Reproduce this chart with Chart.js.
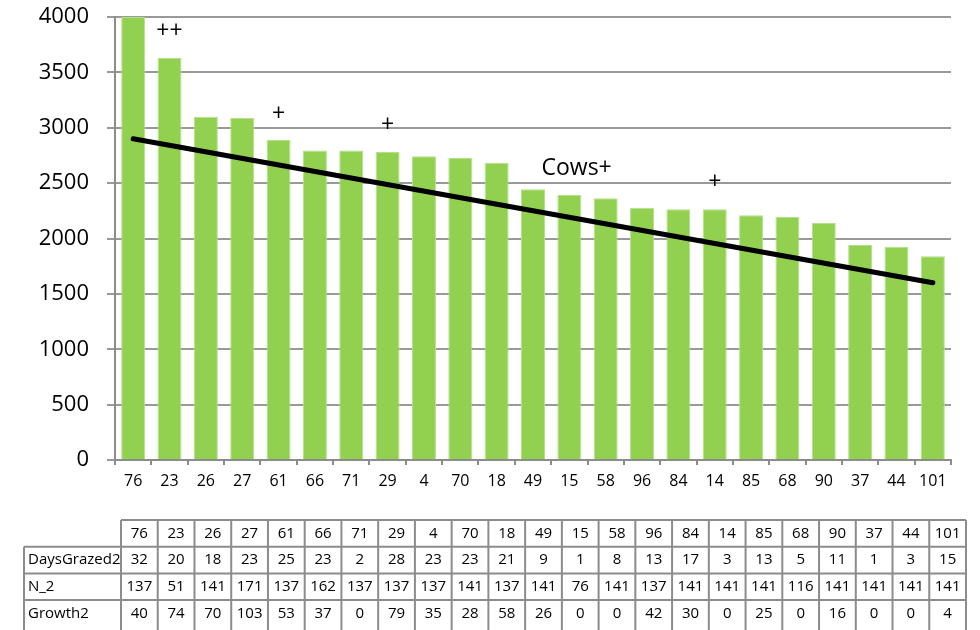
<!DOCTYPE html>
<html>
<head>
<meta charset="utf-8">
<script src="https://cdn.jsdelivr.net/npm/chart.js@4"></script>
<style>
  html, body { margin: 0; padding: 0; background: #fff; }
  #wrap { width: 980px; height: 630px; }
</style>
</head>
<body>
<div id="wrap"><canvas id="cowChart" width="980" height="630"></canvas></div>
<script>
// Paddock ids along the x axis
const paddocks = ['76', '23', '26', '27', '61', '66', '71', '29', '4', '70', '18', '49',
    '15', '58', '96', '84', '14', '85', '68', '90', '37', '44', '101'];

// Bar heights
const cows = [4000, 3630, 3100, 3090, 2890, 2795, 2795, 2780, 2742, 2727, 2685, 2444,
    2393, 2363, 2278, 2265, 2265, 2209, 2194, 2140, 1941, 1926, 1840];

// Trend line, first and last category only
const trend = [2900, null, null, null, null, null, null, null, null, null, null, null,
    null, null, null, null, null, null, null, null, null, null, 1600];

// Data table rows
const daysGrazed2 = [32, 20, 18, 23, 25, 23, 2, 28, 23, 23, 21, 9, 1, 8, 13, 17, 3, 13, 5, 11, 1, 3, 15];
const n2 = [137, 51, 141, 171, 137, 162, 137, 137, 137, 141, 137, 141, 76, 141, 137, 141, 141, 141, 116, 141, 141, 141, 141];
const growth2 = [40, 74, 70, 103, 53, 37, 0, 79, 35, 28, 58, 26, 0, 0, 42, 30, 0, 25, 0, 16, 0, 0, 4];
const tableRows = [
    { label: 'DaysGrazed2', values: daysGrazed2 },
    { label: 'N_2', values: n2 },
    { label: 'Growth2', values: growth2 }
];

// Text marks above the bars
const noteText = ['++', '+', '+', 'Cows+', '+'];
const noteIndex = [1, 4, 7, 12.2, 16];
const noteValue = [3865, 3124, 3025, 2628, 2510];

const yTicks = [0, 500, 1000, 1500, 2000, 2500, 3000, 3500, 4000];

const FONT = '"Open Sans", "Liberation Sans", sans-serif';

// Draw the notes and the data table
const extrasPlugin = {
    id: 'extras',
    afterDatasetsDraw(chart) {
        const { ctx, scales } = chart;
        ctx.save();
        ctx.fillStyle = '#000';
        ctx.font = `23px ${FONT}`;
        ctx.textAlign = 'center';
        ctx.textBaseline = 'middle';
        noteText.forEach((t, i) => {
            const x = scales.x.getPixelForValue(noteIndex[i]);
            const y = scales.y.getPixelForValue(noteValue[i]);
            ctx.fillText(t, x, y);
        });
        ctx.restore();
    },
    afterDraw(chart) {
        const ctx = chart.ctx;
        const labelLeft = 24;
        const left = 121;
        const right = 966;
        const top = 520;
        const rowH = 26.7;
        const colW = (right - left) / paddocks.length;
        const bottom = 640;

        ctx.save();
        ctx.strokeStyle = '#8c8c8c';
        ctx.lineWidth = 2;
        ctx.beginPath();
        // horizontal lines
        ctx.moveTo(left, top);
        ctx.lineTo(right, top);
        for (let r = 1; r <= tableRows.length; r++) {
            const y = top + r * rowH;
            ctx.moveTo(labelLeft, y);
            ctx.lineTo(right, y);
        }
        // vertical lines
        ctx.moveTo(labelLeft, top + rowH);
        ctx.lineTo(labelLeft, bottom);
        for (let c = 0; c <= paddocks.length; c++) {
            const x = left + c * colW;
            ctx.moveTo(x, top);
            ctx.lineTo(x, bottom);
        }
        ctx.stroke();

        ctx.fillStyle = '#000';
        ctx.font = `15px ${FONT}`;
        ctx.textBaseline = 'middle';
        ctx.textAlign = 'center';
        paddocks.forEach((p, c) => {
            ctx.fillText(p, left + (c + 0.5) * colW, top + rowH / 2);
        });
        tableRows.forEach((row, r) => {
            const y = top + (r + 1.5) * rowH;
            ctx.textAlign = 'left';
            ctx.fillText(row.label, labelLeft + 4, y);
            ctx.textAlign = 'center';
            row.values.forEach((v, c) => {
                ctx.fillText(String(v), left + (c + 0.5) * colW, y);
            });
        });
        ctx.restore();
    }
};

const chart = new Chart(document.getElementById('cowChart'), {
    data: {
        labels: paddocks,
        datasets: [
            {
                type: 'line',
                label: 'Trend',
                data: trend,
                spanGaps: true,
                borderColor: '#000',
                borderWidth: 5,
                borderCapStyle: 'round',
                pointRadius: 0,
                fill: false,
                order: 0
            },
            {
                type: 'bar',
                label: 'Cows',
                data: cows,
                backgroundColor: '#92D050',
                borderColor: '#b5e08a',
                borderWidth: 1,
                barPercentage: 0.66,
                categoryPercentage: 1.0,
                order: 1
            }
        ]
    },
    options: {
        responsive: false,
        animation: false,
        layout: { padding: { left: 0, right: 29, top: 17, bottom: 0 } },
        plugins: {
            legend: { display: false },
            tooltip: { enabled: false }
        },
        scales: {
            x: {
                offset: true,
                afterFit(scale) { scale.height = 170; },
                grid: {
                    offset: true,
                    drawOnChartArea: false,
                    drawTicks: true,
                    tickLength: 5,
                    color: '#8c8c8c',
                    lineWidth: 2
                },
                border: { color: '#8c8c8c', width: 2 },
                ticks: {
                    color: '#000',
                    font: { family: FONT, size: 16 },
                    padding: 7,
                    maxRotation: 0,
                    autoSkip: false
                }
            },
            y: {
                min: 0,
                max: 4000,
                afterFit(scale) {
                    scale.width = 115;
                    scale.paddingTop = 0;
                    scale.paddingBottom = 0;
                },
                afterBuildTicks(scale) { scale.ticks = yTicks.map(v => ({ value: v })); },
                grid: {
                    color: '#999',
                    lineWidth: 2,
                    tickLength: 8
                },
                border: { color: '#8c8c8c', width: 2 },
                ticks: {
                    color: '#000',
                    font: { family: FONT, size: 22 },
                    padding: 18,
                    callback: (value) => String(value)
                }
            }
        }
    },
    plugins: [extrasPlugin]
});
</script>
</body>
</html>
